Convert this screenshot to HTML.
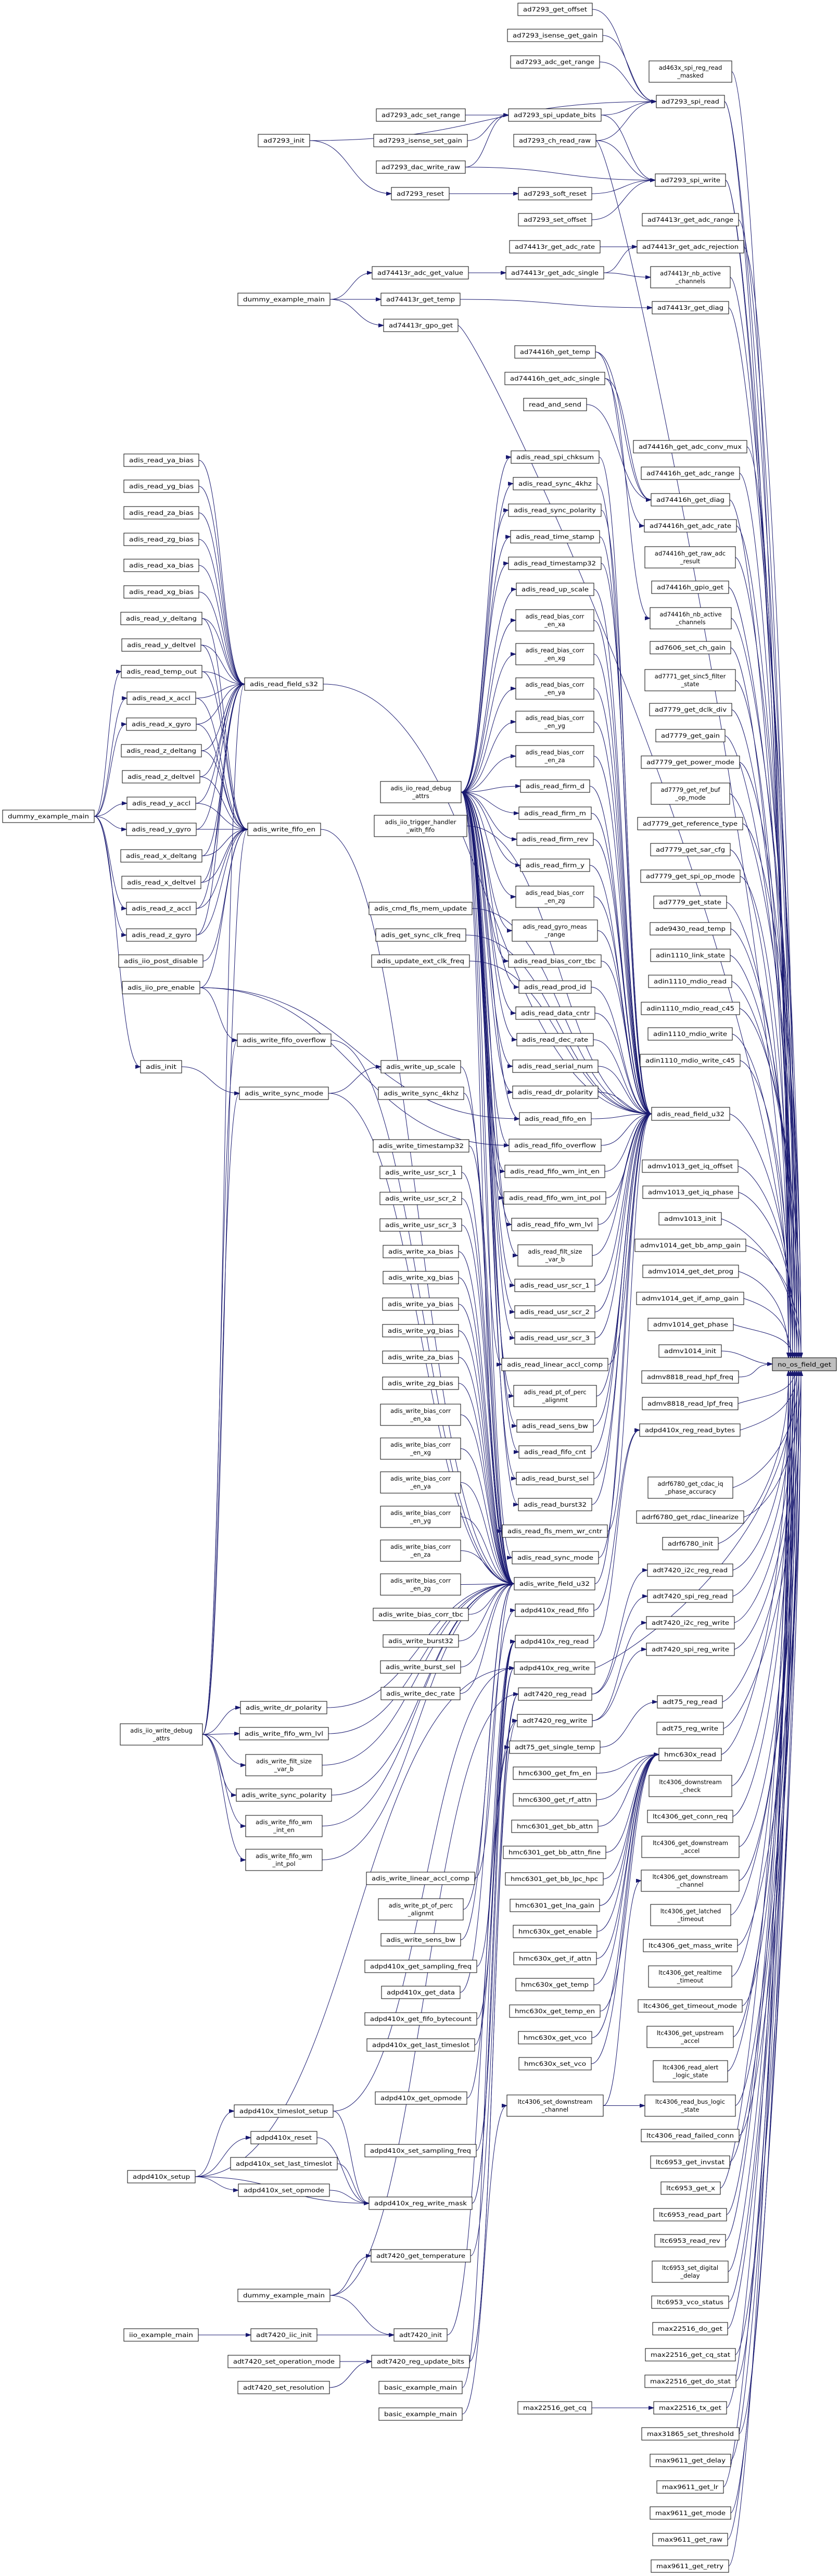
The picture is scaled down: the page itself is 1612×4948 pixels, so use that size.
<!DOCTYPE html>
<html><head><meta charset="utf-8">
<style>
html,body{margin:0;padding:0;background:#fff;}
svg#m{display:block}
svg.n{overflow:visible}
svg.n rect{fill:#fff;stroke:#000;stroke-width:1}
svg.n text{font-family:"DejaVu Sans","Liberation Sans",sans-serif;font-size:11.5px;text-anchor:middle;fill:#000}
#E path{fill:none;stroke:#191970;stroke-width:1}
#NO rect{fill:#bfbfbf}
</style></head><body>
<svg id="m" xmlns="http://www.w3.org/2000/svg" width="1612" height="4948" viewBox="0 0 1612 4948">
<defs><marker id="ah" markerUnits="userSpaceOnUse" markerWidth="11" markerHeight="8" refX="10" refY="3.5" orient="auto"><path d="M0,0L10,3.5L0,7z" fill="#191970" stroke="#191970"/></marker></defs>
<g id="E"></g>
<g id="N">
<svg class="n" id="a1" x="995" y="6" width="143" height="24"><rect width="100%" height="100%"/><text x="50%" y="16">ad7293_get_offset</text></svg>
<svg class="n" id="a2" x="975" y="56" width="183" height="24"><rect width="100%" height="100%"/><text x="50%" y="16">ad7293_isense_get_gain</text></svg>
<svg class="n" id="a3" x="981" y="107" width="171" height="24"><rect width="100%" height="100%"/><text x="50%" y="16">ad7293_adc_get_range</text></svg>
<svg class="n" id="a4" x="1247" y="117" width="159" height="41"><rect width="100%" height="100%"/><text y="17"><tspan x="50%">ad463x_spi_reg_read</tspan><tspan x="50%" dy="15">_masked</tspan></text></svg>
<svg class="n" id="a5" x="1261" y="183" width="131" height="24"><rect width="100%" height="100%"/><text x="50%" y="16">ad7293_spi_read</text></svg>
<svg class="n" id="a6" x="723" y="209" width="171" height="24"><rect width="100%" height="100%"/><text x="50%" y="16">ad7293_adc_set_range</text></svg>
<svg class="n" id="a7" x="977" y="209" width="178" height="24"><rect width="100%" height="100%"/><text x="50%" y="16">ad7293_spi_update_bits</text></svg>
<svg class="n" id="a8" x="496" y="258" width="99" height="24"><rect width="100%" height="100%"/><text x="50%" y="16">ad7293_init</text></svg>
<svg class="n" id="a9" x="718" y="258" width="180" height="24"><rect width="100%" height="100%"/><text x="50%" y="16">ad7293_isense_set_gain</text></svg>
<svg class="n" id="a10" x="987" y="258" width="158" height="24"><rect width="100%" height="100%"/><text x="50%" y="16">ad7293_ch_read_raw</text></svg>
<svg class="n" id="a11" x="723" y="309" width="171" height="24"><rect width="100%" height="100%"/><text x="50%" y="16">ad7293_dac_write_raw</text></svg>
<svg class="n" id="a12" x="1259" y="334" width="135" height="24"><rect width="100%" height="100%"/><text x="50%" y="16">ad7293_spi_write</text></svg>
<svg class="n" id="a13" x="752" y="360" width="111" height="24"><rect width="100%" height="100%"/><text x="50%" y="16">ad7293_reset</text></svg>
<svg class="n" id="a14" x="996" y="360" width="141" height="24"><rect width="100%" height="100%"/><text x="50%" y="16">ad7293_soft_reset</text></svg>
<svg class="n" id="a15" x="996" y="410" width="141" height="24"><rect width="100%" height="100%"/><text x="50%" y="16">ad7293_set_offset</text></svg>
<svg class="n" id="a16" x="1234" y="410" width="185" height="24"><rect width="100%" height="100%"/><text x="50%" y="16">ad74413r_get_adc_range</text></svg>
<svg class="n" id="a17" x="979" y="462" width="174" height="24"><rect width="100%" height="100%"/><text x="50%" y="16">ad74413r_get_adc_rate</text></svg>
<svg class="n" id="a18" x="1224" y="462" width="205" height="24"><rect width="100%" height="100%"/><text x="50%" y="16">ad74413r_get_adc_rejection</text></svg>
<svg class="n" id="a19" x="715" y="512" width="185" height="24"><rect width="100%" height="100%"/><text x="50%" y="16">ad74413r_adc_get_value</text></svg>
<svg class="n" id="a20" x="972" y="512" width="188" height="24"><rect width="100%" height="100%"/><text x="50%" y="16">ad74413r_get_adc_single</text></svg>
<svg class="n" id="a21" x="1250" y="512" width="153" height="41"><rect width="100%" height="100%"/><text y="17"><tspan x="50%">ad74413r_nb_active</tspan><tspan x="50%" dy="15">_channels</tspan></text></svg>
<svg class="n" id="a22" x="457" y="563" width="177" height="24"><rect width="100%" height="100%"/><text x="50%" y="16">dummy_example_main</text></svg>
<svg class="n" id="a23" x="732" y="563" width="152" height="24"><rect width="100%" height="100%"/><text x="50%" y="16">ad74413r_get_temp</text></svg>
<svg class="n" id="a24" x="1253" y="579" width="147" height="24"><rect width="100%" height="100%"/><text x="50%" y="16">ad74413r_get_diag</text></svg>
<svg class="n" id="a25" x="737" y="613" width="143" height="24"><rect width="100%" height="100%"/><text x="50%" y="16">ad74413r_gpo_get</text></svg>
<svg class="n" id="a26" x="989" y="664" width="155" height="24"><rect width="100%" height="100%"/><text x="50%" y="16">ad74416h_get_temp</text></svg>
<svg class="n" id="a27" x="970" y="715" width="192" height="24"><rect width="100%" height="100%"/><text x="50%" y="16">ad74416h_get_adc_single</text></svg>
<svg class="n" id="a28" x="1006" y="765" width="121" height="24"><rect width="100%" height="100%"/><text x="50%" y="16">read_and_send</text></svg>
<svg class="n" id="a29" x="1217" y="846" width="218" height="24"><rect width="100%" height="100%"/><text x="50%" y="16">ad74416h_get_adc_conv_mux</text></svg>
<svg class="n" id="a30" x="982" y="866" width="169" height="24"><rect width="100%" height="100%"/><text x="50%" y="16">adis_read_spi_chksum</text></svg>
<svg class="n" id="a31" x="1232" y="897" width="189" height="24"><rect width="100%" height="100%"/><text x="50%" y="16">ad74416h_get_adc_range</text></svg>
<svg class="n" id="b1" x="238" y="872" width="144" height="24"><rect width="100%" height="100%"/><text x="50%" y="16">adis_read_ya_bias</text></svg>
<svg class="n" id="a32" x="986" y="917" width="161" height="24"><rect width="100%" height="100%"/><text x="50%" y="16">adis_read_sync_4khz</text></svg>
<svg class="n" id="b2" x="238" y="922" width="144" height="24"><rect width="100%" height="100%"/><text x="50%" y="16">adis_read_yg_bias</text></svg>
<svg class="n" id="a33" x="1251" y="948" width="151" height="24"><rect width="100%" height="100%"/><text x="50%" y="16">ad74416h_get_diag</text></svg>
<svg class="n" id="a34" x="977" y="968" width="178" height="24"><rect width="100%" height="100%"/><text x="50%" y="16">adis_read_sync_polarity</text></svg>
<svg class="n" id="b3" x="238" y="973" width="144" height="24"><rect width="100%" height="100%"/><text x="50%" y="16">adis_read_za_bias</text></svg>
<svg class="n" id="a35" x="1238" y="998" width="177" height="24"><rect width="100%" height="100%"/><text x="50%" y="16">ad74416h_get_adc_rate</text></svg>
<svg class="n" id="a36" x="981" y="1019" width="171" height="24"><rect width="100%" height="100%"/><text x="50%" y="16">adis_read_time_stamp</text></svg>
<svg class="n" id="b4" x="238" y="1024" width="144" height="24"><rect width="100%" height="100%"/><text x="50%" y="16">adis_read_zg_bias</text></svg>
<svg class="n" id="a37" x="1239" y="1050" width="174" height="41"><rect width="100%" height="100%"/><text y="17"><tspan x="50%">ad74416h_get_raw_adc</tspan><tspan x="50%" dy="15">_result</tspan></text></svg>
<svg class="n" id="a38" x="977" y="1070" width="178" height="24"><rect width="100%" height="100%"/><text x="50%" y="16">adis_read_timestamp32</text></svg>
<svg class="n" id="b5" x="238" y="1074" width="144" height="24"><rect width="100%" height="100%"/><text x="50%" y="16">adis_read_xa_bias</text></svg>
<svg class="n" id="a39" x="1252" y="1116" width="148" height="24"><rect width="100%" height="100%"/><text x="50%" y="16">ad74416h_gpio_get</text></svg>
<svg class="n" id="a40" x="992" y="1120" width="149" height="24"><rect width="100%" height="100%"/><text x="50%" y="16">adis_read_up_scale</text></svg>
<svg class="n" id="b6" x="238" y="1125" width="144" height="24"><rect width="100%" height="100%"/><text x="50%" y="16">adis_read_xg_bias</text></svg>
<svg class="n" id="a41" x="1249" y="1167" width="156" height="41"><rect width="100%" height="100%"/><text y="17"><tspan x="50%">ad74416h_nb_active</tspan><tspan x="50%" dy="15">_channels</tspan></text></svg>
<svg class="n" id="a42" x="991" y="1171" width="150" height="41"><rect width="100%" height="100%"/><text y="17"><tspan x="50%">adis_read_bias_corr</tspan><tspan x="50%" dy="15">_en_xa</tspan></text></svg>
<svg class="n" id="b7" x="232" y="1176" width="156" height="24"><rect width="100%" height="100%"/><text x="50%" y="16">adis_read_y_deltang</text></svg>
<svg class="n" id="b8" x="234" y="1227" width="152" height="24"><rect width="100%" height="100%"/><text x="50%" y="16">adis_read_y_deltvel</text></svg>
<svg class="n" id="a43" x="1249" y="1232" width="155" height="24"><rect width="100%" height="100%"/><text x="50%" y="16">ad7606_set_ch_gain</text></svg>
<svg class="n" id="a44" x="991" y="1236" width="150" height="41"><rect width="100%" height="100%"/><text y="17"><tspan x="50%">adis_read_bias_corr</tspan><tspan x="50%" dy="15">_en_xg</tspan></text></svg>
<svg class="n" id="b9" x="233" y="1278" width="155" height="24"><rect width="100%" height="100%"/><text x="50%" y="16">adis_read_temp_out</text></svg>
<svg class="n" id="c1" x="470" y="1302" width="151" height="24"><rect width="100%" height="100%"/><text x="50%" y="16">adis_read_field_s32</text></svg>
<svg class="n" id="a45" x="991" y="1302" width="150" height="41"><rect width="100%" height="100%"/><text y="17"><tspan x="50%">adis_read_bias_corr</tspan><tspan x="50%" dy="15">_en_ya</tspan></text></svg>
<svg class="n" id="a46" x="1239" y="1286" width="174" height="41"><rect width="100%" height="100%"/><text y="17"><tspan x="50%">ad7771_get_sinc5_filter</tspan><tspan x="50%" dy="15">_state</tspan></text></svg>
<svg class="n" id="b10" x="244" y="1329" width="132" height="24"><rect width="100%" height="100%"/><text x="50%" y="16">adis_read_x_accl</text></svg>
<svg class="n" id="a47" x="1248" y="1351" width="158" height="24"><rect width="100%" height="100%"/><text x="50%" y="16">ad7779_get_dclk_div</text></svg>
<svg class="n" id="b11" x="243" y="1379" width="134" height="24"><rect width="100%" height="100%"/><text x="50%" y="16">adis_read_x_gyro</text></svg>
<svg class="n" id="a48" x="991" y="1366" width="150" height="41"><rect width="100%" height="100%"/><text y="17"><tspan x="50%">adis_read_bias_corr</tspan><tspan x="50%" dy="15">_en_yg</tspan></text></svg>
<svg class="n" id="a49" x="1260" y="1401" width="133" height="24"><rect width="100%" height="100%"/><text x="50%" y="16">ad7779_get_gain</text></svg>
<svg class="n" id="b12" x="233" y="1430" width="154" height="24"><rect width="100%" height="100%"/><text x="50%" y="16">adis_read_z_deltang</text></svg>
<svg class="n" id="a50" x="991" y="1432" width="150" height="41"><rect width="100%" height="100%"/><text y="17"><tspan x="50%">adis_read_bias_corr</tspan><tspan x="50%" dy="15">_en_za</tspan></text></svg>
<svg class="n" id="a51" x="1232" y="1452" width="189" height="24"><rect width="100%" height="100%"/><text x="50%" y="16">ad7779_get_power_mode</text></svg>
<svg class="n" id="b13" x="235" y="1480" width="149" height="24"><rect width="100%" height="100%"/><text x="50%" y="16">adis_read_z_deltvel</text></svg>
<svg class="n" id="d1" x="731" y="1501" width="155" height="41"><rect width="100%" height="100%"/><text y="17"><tspan x="50%">adis_iio_read_debug</tspan><tspan x="50%" dy="15">_attrs</tspan></text></svg>
<svg class="n" id="a52" x="1000" y="1498" width="133" height="24"><rect width="100%" height="100%"/><text x="50%" y="16">adis_read_firm_d</text></svg>
<svg class="n" id="a53" x="1251" y="1504" width="151" height="41"><rect width="100%" height="100%"/><text y="17"><tspan x="50%">ad7779_get_ref_buf</tspan><tspan x="50%" dy="15">_op_mode</tspan></text></svg>
<svg class="n" id="b14" x="244" y="1531" width="132" height="24"><rect width="100%" height="100%"/><text x="50%" y="16">adis_read_y_accl</text></svg>
<svg class="n" id="L1" x="5" y="1556" width="176" height="24"><rect width="100%" height="100%"/><text x="50%" y="16">dummy_example_main</text></svg>
<svg class="n" id="a54" x="997" y="1550" width="139" height="24"><rect width="100%" height="100%"/><text x="50%" y="16">adis_read_firm_m</text></svg>
<svg class="n" id="a55" x="1225" y="1570" width="202" height="24"><rect width="100%" height="100%"/><text x="50%" y="16">ad7779_get_reference_type</text></svg>
<svg class="n" id="d2" x="719" y="1566" width="178" height="41"><rect width="100%" height="100%"/><text y="17"><tspan x="50%">adis_iio_trigger_handler</tspan><tspan x="50%" dy="15">_with_fifo</tspan></text></svg>
<svg class="n" id="b15" x="243" y="1581" width="134" height="24"><rect width="100%" height="100%"/><text x="50%" y="16">adis_read_y_gyro</text></svg>
<svg class="n" id="c2" x="476" y="1581" width="140" height="24"><rect width="100%" height="100%"/><text x="50%" y="16">adis_write_fifo_en</text></svg>
<svg class="n" id="a56" x="993" y="1600" width="147" height="24"><rect width="100%" height="100%"/><text x="50%" y="16">adis_read_firm_rev</text></svg>
<svg class="n" id="a57" x="1250" y="1620" width="153" height="24"><rect width="100%" height="100%"/><text x="50%" y="16">ad7779_get_sar_cfg</text></svg>
<svg class="n" id="b16" x="232" y="1632" width="156" height="24"><rect width="100%" height="100%"/><text x="50%" y="16">adis_read_x_deltang</text></svg>
<svg class="n" id="a58" x="1000" y="1650" width="133" height="24"><rect width="100%" height="100%"/><text x="50%" y="16">adis_read_firm_y</text></svg>
<svg class="n" id="a59" x="1231" y="1671" width="191" height="24"><rect width="100%" height="100%"/><text x="50%" y="16">ad7779_get_spi_op_mode</text></svg>
<svg class="n" id="b17" x="234" y="1683" width="152" height="24"><rect width="100%" height="100%"/><text x="50%" y="16">adis_read_x_deltvel</text></svg>
<svg class="n" id="a60" x="991" y="1702" width="150" height="41"><rect width="100%" height="100%"/><text y="17"><tspan x="50%">adis_read_bias_corr</tspan><tspan x="50%" dy="15">_en_zg</tspan></text></svg>
<svg class="n" id="a61" x="1256" y="1721" width="140" height="24"><rect width="100%" height="100%"/><text x="50%" y="16">ad7779_get_state</text></svg>
<svg class="n" id="d3" x="709" y="1733" width="198" height="24"><rect width="100%" height="100%"/><text x="50%" y="16">adis_cmd_fls_mem_update</text></svg>
<svg class="n" id="b18" x="243" y="1733" width="134" height="24"><rect width="100%" height="100%"/><text x="50%" y="16">adis_read_z_accl</text></svg>
<svg class="n" id="a62" x="984" y="1767" width="164" height="41"><rect width="100%" height="100%"/><text y="17"><tspan x="50%">adis_read_gyro_meas</tspan><tspan x="50%" dy="15">_range</tspan></text></svg>
<svg class="n" id="a63" x="1249" y="1772" width="155" height="24"><rect width="100%" height="100%"/><text x="50%" y="16">ade9430_read_temp</text></svg>
<svg class="n" id="d4" x="722" y="1784" width="173" height="24"><rect width="100%" height="100%"/><text x="50%" y="16">adis_get_sync_clk_freq</text></svg>
<svg class="n" id="b19" x="243" y="1784" width="134" height="24"><rect width="100%" height="100%"/><text x="50%" y="16">adis_read_z_gyro</text></svg>
<svg class="n" id="a64" x="1250" y="1823" width="153" height="24"><rect width="100%" height="100%"/><text x="50%" y="16">adin1110_link_state</text></svg>
<svg class="n" id="b20" x="228" y="1834" width="162" height="24"><rect width="100%" height="100%"/><text x="50%" y="16">adis_iio_post_disable</text></svg>
<svg class="n" id="d5" x="714" y="1834" width="188" height="24"><rect width="100%" height="100%"/><text x="50%" y="16">adis_update_ext_clk_freq</text></svg>
<svg class="n" id="a65" x="977" y="1834" width="178" height="24"><rect width="100%" height="100%"/><text x="50%" y="16">adis_read_bias_corr_tbc</text></svg>
<svg class="n" id="a66" x="1246" y="1873" width="160" height="24"><rect width="100%" height="100%"/><text x="50%" y="16">adin1110_mdio_read</text></svg>
<svg class="n" id="b21" x="235" y="1885" width="149" height="24"><rect width="100%" height="100%"/><text x="50%" y="16">adis_iio_pre_enable</text></svg>
<svg class="n" id="a67" x="997" y="1884" width="139" height="24"><rect width="100%" height="100%"/><text x="50%" y="16">adis_read_prod_id</text></svg>
<svg class="n" id="a68" x="1232" y="1925" width="189" height="24"><rect width="100%" height="100%"/><text x="50%" y="16">adin1110_mdio_read_c45</text></svg>
<svg class="n" id="a69" x="991" y="1934" width="152" height="24"><rect width="100%" height="100%"/><text x="50%" y="16">adis_read_data_cntr</text></svg>
<svg class="n" id="a70" x="1245" y="1974" width="162" height="24"><rect width="100%" height="100%"/><text x="50%" y="16">adin1110_mdio_write</text></svg>
<svg class="n" id="c3" x="456" y="1986" width="180" height="24"><rect width="100%" height="100%"/><text x="50%" y="16">adis_write_fifo_overflow</text></svg>
<svg class="n" id="a71" x="993" y="1985" width="147" height="24"><rect width="100%" height="100%"/><text x="50%" y="16">adis_read_dec_rate</text></svg>
<svg class="n" id="a72" x="1230" y="2025" width="192" height="24"><rect width="100%" height="100%"/><text x="50%" y="16">adin1110_mdio_write_c45</text></svg>
<svg class="n" id="b22" x="270" y="2037" width="79" height="24"><rect width="100%" height="100%"/><text x="50%" y="16">adis_init</text></svg>
<svg class="n" id="d6" x="732" y="2037" width="153" height="24"><rect width="100%" height="100%"/><text x="50%" y="16">adis_write_up_scale</text></svg>
<svg class="n" id="a73" x="985" y="2036" width="164" height="24"><rect width="100%" height="100%"/><text x="50%" y="16">adis_read_serial_num</text></svg>
<svg class="n" id="c4" x="460" y="2088" width="171" height="24"><rect width="100%" height="100%"/><text x="50%" y="16">adis_write_sync_mode</text></svg>
<svg class="n" id="d7" x="727" y="2088" width="164" height="24"><rect width="100%" height="100%"/><text x="50%" y="16">adis_write_sync_4khz</text></svg>
<svg class="n" id="a74" x="985" y="2086" width="164" height="24"><rect width="100%" height="100%"/><text x="50%" y="16">adis_read_dr_polarity</text></svg>
<svg class="n" id="f1" x="1252" y="2127" width="150" height="25"><rect width="100%" height="100%"/><text x="50%" y="17">adis_read_field_u32</text></svg>
<svg class="n" id="a75" x="998" y="2137" width="138" height="24"><rect width="100%" height="100%"/><text x="50%" y="16">adis_read_fifo_en</text></svg>
<svg class="n" id="d8" x="717" y="2189" width="184" height="24"><rect width="100%" height="100%"/><text x="50%" y="16">adis_write_timestamp32</text></svg>
<svg class="n" id="a76" x="978" y="2188" width="177" height="24"><rect width="100%" height="100%"/><text x="50%" y="16">adis_read_fifo_overflow</text></svg>
<svg class="n" id="a77" x="1234" y="2228" width="184" height="24"><rect width="100%" height="100%"/><text x="50%" y="16">admv1013_get_iq_offset</text></svg>
<svg class="n" id="d9" x="730" y="2240" width="157" height="24"><rect width="100%" height="100%"/><text x="50%" y="16">adis_write_usr_scr_1</text></svg>
<svg class="n" id="a78" x="970" y="2238" width="192" height="24"><rect width="100%" height="100%"/><text x="50%" y="16">adis_read_fifo_wm_int_en</text></svg>
<svg class="n" id="a79" x="1235" y="2278" width="184" height="24"><rect width="100%" height="100%"/><text x="50%" y="16">admv1013_get_iq_phase</text></svg>
<svg class="n" id="d10" x="730" y="2290" width="157" height="24"><rect width="100%" height="100%"/><text x="50%" y="16">adis_write_usr_scr_2</text></svg>
<svg class="n" id="a80" x="968" y="2289" width="196" height="24"><rect width="100%" height="100%"/><text x="50%" y="16">adis_read_fifo_wm_int_pol</text></svg>
<svg class="n" id="a81" x="1266" y="2329" width="120" height="24"><rect width="100%" height="100%"/><text x="50%" y="16">admv1013_init</text></svg>
<svg class="n" id="d11" x="730" y="2341" width="157" height="24"><rect width="100%" height="100%"/><text x="50%" y="16">adis_write_usr_scr_3</text></svg>
<svg class="n" id="a82" x="983" y="2340" width="166" height="24"><rect width="100%" height="100%"/><text x="50%" y="16">adis_read_fifo_wm_lvl</text></svg>
<svg class="n" id="a83" x="1220" y="2380" width="213" height="24"><rect width="100%" height="100%"/><text x="50%" y="16">admv1014_get_bb_amp_gain</text></svg>
<svg class="n" id="d12" x="736" y="2392" width="145" height="24"><rect width="100%" height="100%"/><text x="50%" y="16">adis_write_xa_bias</text></svg>
<svg class="n" id="a84" x="995" y="2391" width="143" height="41"><rect width="100%" height="100%"/><text y="17"><tspan x="50%">adis_read_filt_size</tspan><tspan x="50%" dy="15">_var_b</tspan></text></svg>
<svg class="n" id="a85" x="1235" y="2430" width="184" height="24"><rect width="100%" height="100%"/><text x="50%" y="16">admv1014_get_det_prog</text></svg>
<svg class="n" id="d13" x="736" y="2442" width="145" height="24"><rect width="100%" height="100%"/><text x="50%" y="16">adis_write_xg_bias</text></svg>
<svg class="n" id="a86" x="989" y="2457" width="154" height="24"><rect width="100%" height="100%"/><text x="50%" y="16">adis_read_usr_scr_1</text></svg>
<svg class="n" id="a87" x="1223" y="2482" width="206" height="24"><rect width="100%" height="100%"/><text x="50%" y="16">admv1014_get_if_amp_gain</text></svg>
<svg class="n" id="d14" x="735" y="2493" width="146" height="24"><rect width="100%" height="100%"/><text x="50%" y="16">adis_write_ya_bias</text></svg>
<svg class="n" id="a88" x="989" y="2508" width="154" height="24"><rect width="100%" height="100%"/><text x="50%" y="16">adis_read_usr_scr_2</text></svg>
<svg class="n" id="a89" x="1245" y="2532" width="164" height="24"><rect width="100%" height="100%"/><text x="50%" y="16">admv1014_get_phase</text></svg>
<svg class="n" id="d15" x="735" y="2544" width="146" height="24"><rect width="100%" height="100%"/><text x="50%" y="16">adis_write_yg_bias</text></svg>
<svg class="n" id="a90" x="989" y="2558" width="154" height="24"><rect width="100%" height="100%"/><text x="50%" y="16">adis_read_usr_scr_3</text></svg>
<svg class="n" id="a91" x="1266" y="2583" width="120" height="24"><rect width="100%" height="100%"/><text x="50%" y="16">admv1014_init</text></svg>
<svg class="n" id="d16" x="735" y="2595" width="146" height="24"><rect width="100%" height="100%"/><text x="50%" y="16">adis_write_za_bias</text></svg>
<svg class="n" id="NO" x="1484" y="2608" width="123" height="25"><rect width="100%" height="100%"/><text x="50%" y="17">no_os_field_get</text></svg>
<svg class="n" id="a92" x="964" y="2609" width="204" height="24"><rect width="100%" height="100%"/><text x="50%" y="16">adis_read_linear_accl_comp</text></svg>
<svg class="n" id="a93" x="1233" y="2633" width="186" height="24"><rect width="100%" height="100%"/><text x="50%" y="16">admv8818_read_hpf_freq</text></svg>
<svg class="n" id="d17" x="735" y="2645" width="146" height="24"><rect width="100%" height="100%"/><text x="50%" y="16">adis_write_zg_bias</text></svg>
<svg class="n" id="a94" x="987" y="2661" width="159" height="41"><rect width="100%" height="100%"/><text y="17"><tspan x="50%">adis_read_pt_of_perc</tspan><tspan x="50%" dy="15">_alignmt</tspan></text></svg>
<svg class="n" id="a95" x="1234" y="2684" width="184" height="24"><rect width="100%" height="100%"/><text x="50%" y="16">admv8818_read_lpf_freq</text></svg>
<svg class="n" id="d18" x="731" y="2697" width="154" height="41"><rect width="100%" height="100%"/><text y="17"><tspan x="50%">adis_write_bias_corr</tspan><tspan x="50%" dy="15">_en_xa</tspan></text></svg>
<svg class="n" id="a96" x="993" y="2727" width="147" height="24"><rect width="100%" height="100%"/><text x="50%" y="16">adis_read_sens_bw</text></svg>
<svg class="n" id="a97" x="1229" y="2735" width="193" height="24"><rect width="100%" height="100%"/><text x="50%" y="16">adpd410x_reg_read_bytes</text></svg>
<svg class="n" id="d19" x="731" y="2762" width="154" height="41"><rect width="100%" height="100%"/><text y="17"><tspan x="50%">adis_write_bias_corr</tspan><tspan x="50%" dy="15">_en_xg</tspan></text></svg>
<svg class="n" id="a98" x="997" y="2777" width="139" height="24"><rect width="100%" height="100%"/><text x="50%" y="16">adis_read_fifo_cnt</text></svg>
<svg class="n" id="d20" x="731" y="2827" width="154" height="41"><rect width="100%" height="100%"/><text y="17"><tspan x="50%">adis_write_bias_corr</tspan><tspan x="50%" dy="15">_en_ya</tspan></text></svg>
<svg class="n" id="a99" x="1245" y="2837" width="163" height="41"><rect width="100%" height="100%"/><text y="17"><tspan x="50%">adrf6780_get_cdac_iq</tspan><tspan x="50%" dy="15">_phase_accuracy</tspan></text></svg>
<svg class="n" id="a100" x="992" y="2828" width="149" height="24"><rect width="100%" height="100%"/><text x="50%" y="16">adis_read_burst_sel</text></svg>
<svg class="n" id="a101" x="996" y="2878" width="141" height="24"><rect width="100%" height="100%"/><text x="50%" y="16">adis_read_burst32</text></svg>
<svg class="n" id="d21" x="731" y="2893" width="154" height="41"><rect width="100%" height="100%"/><text y="17"><tspan x="50%">adis_write_bias_corr</tspan><tspan x="50%" dy="15">_en_yg</tspan></text></svg>
<svg class="n" id="a102" x="1223" y="2902" width="206" height="24"><rect width="100%" height="100%"/><text x="50%" y="16">adrf6780_get_rdac_linearize</text></svg>
<svg class="n" id="a103" x="965" y="2929" width="202" height="24"><rect width="100%" height="100%"/><text x="50%" y="16">adis_read_fls_mem_wr_cntr</text></svg>
<svg class="n" id="a104" x="1273" y="2953" width="107" height="24"><rect width="100%" height="100%"/><text x="50%" y="16">adrf6780_init</text></svg>
<svg class="n" id="d22" x="731" y="2958" width="154" height="41"><rect width="100%" height="100%"/><text y="17"><tspan x="50%">adis_write_bias_corr</tspan><tspan x="50%" dy="15">_en_za</tspan></text></svg>
<svg class="n" id="a105" x="984" y="2980" width="166" height="24"><rect width="100%" height="100%"/><text x="50%" y="16">adis_read_sync_mode</text></svg>
<svg class="n" id="a106" x="1244" y="3004" width="164" height="24"><rect width="100%" height="100%"/><text x="50%" y="16">adt7420_i2c_reg_read</text></svg>
<svg class="n" id="d23" x="731" y="3023" width="154" height="41"><rect width="100%" height="100%"/><text y="17"><tspan x="50%">adis_write_bias_corr</tspan><tspan x="50%" dy="15">_en_zg</tspan></text></svg>
<svg class="n" id="e1" x="988" y="3030" width="155" height="24"><rect width="100%" height="100%"/><text x="50%" y="16">adis_write_field_u32</text></svg>
<svg class="n" id="a107" x="1244" y="3054" width="164" height="24"><rect width="100%" height="100%"/><text x="50%" y="16">adt7420_spi_reg_read</text></svg>
<svg class="n" id="d24" x="717" y="3089" width="183" height="24"><rect width="100%" height="100%"/><text x="50%" y="16">adis_write_bias_corr_tbc</text></svg>
<svg class="n" id="e2" x="990" y="3081" width="151" height="24"><rect width="100%" height="100%"/><text x="50%" y="16">adpd410x_read_fifo</text></svg>
<svg class="n" id="a108" x="1242" y="3105" width="169" height="24"><rect width="100%" height="100%"/><text x="50%" y="16">adt7420_i2c_reg_write</text></svg>
<svg class="n" id="d25" x="736" y="3140" width="145" height="24"><rect width="100%" height="100%"/><text x="50%" y="16">adis_write_burst32</text></svg>
<svg class="n" id="e3" x="990" y="3141" width="151" height="24"><rect width="100%" height="100%"/><text x="50%" y="16">adpd410x_reg_read</text></svg>
<svg class="n" id="a109" x="1242" y="3156" width="169" height="24"><rect width="100%" height="100%"/><text x="50%" y="16">adt7420_spi_reg_write</text></svg>
<svg class="n" id="d26" x="731" y="3190" width="154" height="24"><rect width="100%" height="100%"/><text x="50%" y="16">adis_write_burst_sel</text></svg>
<svg class="n" id="e4" x="988" y="3192" width="155" height="24"><rect width="100%" height="100%"/><text x="50%" y="16">adpd410x_reg_write</text></svg>
<svg class="n" id="d27" x="732" y="3241" width="152" height="24"><rect width="100%" height="100%"/><text x="50%" y="16">adis_write_dec_rate</text></svg>
<svg class="n" id="e5" x="996" y="3242" width="141" height="24"><rect width="100%" height="100%"/><text x="50%" y="16">adt7420_reg_read</text></svg>
<svg class="n" id="a110" x="1263" y="3257" width="125" height="24"><rect width="100%" height="100%"/><text x="50%" y="16">adt75_reg_read</text></svg>
<svg class="n" id="c5" x="462" y="3268" width="166" height="24"><rect width="100%" height="100%"/><text x="50%" y="16">adis_write_dr_polarity</text></svg>
<svg class="n" id="e6" x="994" y="3293" width="144" height="24"><rect width="100%" height="100%"/><text x="50%" y="16">adt7420_reg_write</text></svg>
<svg class="n" id="b23" x="231" y="3311" width="158" height="41"><rect width="100%" height="100%"/><text y="17"><tspan x="50%">adis_iio_write_debug</tspan><tspan x="50%" dy="15">_attrs</tspan></text></svg>
<svg class="n" id="a111" x="1262" y="3308" width="128" height="24"><rect width="100%" height="100%"/><text x="50%" y="16">adt75_reg_write</text></svg>
<svg class="n" id="c6" x="460" y="3318" width="171" height="24"><rect width="100%" height="100%"/><text x="50%" y="16">adis_write_fifo_wm_lvl</text></svg>
<svg class="n" id="e7" x="979" y="3344" width="174" height="24"><rect width="100%" height="100%"/><text x="50%" y="16">adt75_get_single_temp</text></svg>
<svg class="n" id="a112" x="1266" y="3358" width="120" height="24"><rect width="100%" height="100%"/><text x="50%" y="16">hmc630x_read</text></svg>
<svg class="n" id="c7" x="472" y="3370" width="147" height="41"><rect width="100%" height="100%"/><text y="17"><tspan x="50%">adis_write_filt_size</tspan><tspan x="50%" dy="15">_var_b</tspan></text></svg>
<svg class="n" id="e8" x="986" y="3394" width="160" height="24"><rect width="100%" height="100%"/><text x="50%" y="16">hmc6300_get_fm_en</text></svg>
<svg class="n" id="a113" x="1247" y="3410" width="159" height="41"><rect width="100%" height="100%"/><text y="17"><tspan x="50%">ltc4306_downstream</tspan><tspan x="50%" dy="15">_check</tspan></text></svg>
<svg class="n" id="c8" x="454" y="3436" width="183" height="24"><rect width="100%" height="100%"/><text x="50%" y="16">adis_write_sync_polarity</text></svg>
<svg class="n" id="e9" x="986" y="3445" width="160" height="24"><rect width="100%" height="100%"/><text x="50%" y="16">hmc6300_get_rf_attn</text></svg>
<svg class="n" id="a114" x="1244" y="3477" width="164" height="24"><rect width="100%" height="100%"/><text x="50%" y="16">ltc4306_get_conn_req</text></svg>
<svg class="n" id="c9" x="472" y="3487" width="147" height="41"><rect width="100%" height="100%"/><text y="17"><tspan x="50%">adis_write_fifo_wm</tspan><tspan x="50%" dy="15">_int_en</tspan></text></svg>
<svg class="n" id="e10" x="983" y="3496" width="166" height="24"><rect width="100%" height="100%"/><text x="50%" y="16">hmc6301_get_bb_attn</text></svg>
<svg class="n" id="a115" x="1233" y="3527" width="187" height="41"><rect width="100%" height="100%"/><text y="17"><tspan x="50%">ltc4306_get_downstream</tspan><tspan x="50%" dy="15">_accel</tspan></text></svg>
<svg class="n" id="e11" x="967" y="3546" width="197" height="24"><rect width="100%" height="100%"/><text x="50%" y="16">hmc6301_get_bb_attn_fine</text></svg>
<svg class="n" id="c10" x="472" y="3552" width="147" height="41"><rect width="100%" height="100%"/><text y="17"><tspan x="50%">adis_write_fifo_wm</tspan><tspan x="50%" dy="15">_int_pol</tspan></text></svg>
<svg class="n" id="a116" x="1232" y="3592" width="188" height="41"><rect width="100%" height="100%"/><text y="17"><tspan x="50%">ltc4306_get_downstream</tspan><tspan x="50%" dy="15">_channel</tspan></text></svg>
<svg class="n" id="d28" x="704" y="3596" width="208" height="24"><rect width="100%" height="100%"/><text x="50%" y="16">adis_write_linear_accl_comp</text></svg>
<svg class="n" id="e12" x="971" y="3597" width="188" height="24"><rect width="100%" height="100%"/><text x="50%" y="16">hmc6301_get_bb_lpc_hpc</text></svg>
<svg class="n" id="e13" x="980" y="3648" width="172" height="24"><rect width="100%" height="100%"/><text x="50%" y="16">hmc6301_get_lna_gain</text></svg>
<svg class="n" id="d29" x="727" y="3647" width="163" height="41"><rect width="100%" height="100%"/><text y="17"><tspan x="50%">adis_write_pt_of_perc</tspan><tspan x="50%" dy="15">_alignmt</tspan></text></svg>
<svg class="n" id="a117" x="1250" y="3658" width="154" height="41"><rect width="100%" height="100%"/><text y="17"><tspan x="50%">ltc4306_get_latched</tspan><tspan x="50%" dy="15">_timeout</tspan></text></svg>
<svg class="n" id="e14" x="986" y="3698" width="161" height="24"><rect width="100%" height="100%"/><text x="50%" y="16">hmc630x_get_enable</text></svg>
<svg class="n" id="d30" x="732" y="3714" width="153" height="24"><rect width="100%" height="100%"/><text x="50%" y="16">adis_write_sens_bw</text></svg>
<svg class="n" id="a118" x="1236" y="3725" width="181" height="24"><rect width="100%" height="100%"/><text x="50%" y="16">ltc4306_get_mass_write</text></svg>
<svg class="n" id="e15" x="987" y="3750" width="159" height="24"><rect width="100%" height="100%"/><text x="50%" y="16">hmc630x_get_if_attn</text></svg>
<svg class="n" id="d31" x="701" y="3765" width="215" height="24"><rect width="100%" height="100%"/><text x="50%" y="16">adpd410x_get_sampling_freq</text></svg>
<svg class="n" id="a119" x="1246" y="3776" width="160" height="41"><rect width="100%" height="100%"/><text y="17"><tspan x="50%">ltc4306_get_realtime</tspan><tspan x="50%" dy="15">_timeout</tspan></text></svg>
<svg class="n" id="e16" x="991" y="3800" width="150" height="24"><rect width="100%" height="100%"/><text x="50%" y="16">hmc630x_get_temp</text></svg>
<svg class="n" id="d32" x="733" y="3815" width="151" height="24"><rect width="100%" height="100%"/><text x="50%" y="16">adpd410x_get_data</text></svg>
<svg class="n" id="a120" x="1226" y="3841" width="200" height="24"><rect width="100%" height="100%"/><text x="50%" y="16">ltc4306_get_timeout_mode</text></svg>
<svg class="n" id="e17" x="979" y="3851" width="174" height="24"><rect width="100%" height="100%"/><text x="50%" y="16">hmc630x_get_temp_en</text></svg>
<svg class="n" id="d33" x="701" y="3866" width="215" height="24"><rect width="100%" height="100%"/><text x="50%" y="16">adpd410x_get_fifo_bytecount</text></svg>
<svg class="n" id="a121" x="1243" y="3892" width="166" height="41"><rect width="100%" height="100%"/><text y="17"><tspan x="50%">ltc4306_get_upstream</tspan><tspan x="50%" dy="15">_accel</tspan></text></svg>
<svg class="n" id="e18" x="996" y="3902" width="141" height="24"><rect width="100%" height="100%"/><text x="50%" y="16">hmc630x_get_vco</text></svg>
<svg class="n" id="d34" x="705" y="3916" width="207" height="24"><rect width="100%" height="100%"/><text x="50%" y="16">adpd410x_get_last_timeslot</text></svg>
<svg class="n" id="e19" x="997" y="3952" width="139" height="24"><rect width="100%" height="100%"/><text x="50%" y="16">hmc630x_set_vco</text></svg>
<svg class="n" id="a122" x="1255" y="3958" width="143" height="41"><rect width="100%" height="100%"/><text y="17"><tspan x="50%">ltc4306_read_alert</tspan><tspan x="50%" dy="15">_logic_state</tspan></text></svg>
<svg class="n" id="d35" x="721" y="4018" width="176" height="24"><rect width="100%" height="100%"/><text x="50%" y="16">adpd410x_get_opmode</text></svg>
<svg class="n" id="e20" x="974" y="4024" width="185" height="41"><rect width="100%" height="100%"/><text y="17"><tspan x="50%">ltc4306_set_downstream</tspan><tspan x="50%" dy="15">_channel</tspan></text></svg>
<svg class="n" id="a123" x="1239" y="4024" width="174" height="41"><rect width="100%" height="100%"/><text y="17"><tspan x="50%">ltc4306_read_bus_logic</tspan><tspan x="50%" dy="15">_state</tspan></text></svg>
<svg class="n" id="c11" x="450" y="4043" width="190" height="24"><rect width="100%" height="100%"/><text x="50%" y="16">adpd410x_timeslot_setup</text></svg>
<svg class="n" id="a124" x="1232" y="4090" width="188" height="24"><rect width="100%" height="100%"/><text x="50%" y="16">ltc4306_read_failed_conn</text></svg>
<svg class="n" id="c12" x="482" y="4094" width="127" height="24"><rect width="100%" height="100%"/><text x="50%" y="16">adpd410x_reset</text></svg>
<svg class="n" id="d36" x="701" y="4119" width="214" height="24"><rect width="100%" height="100%"/><text x="50%" y="16">adpd410x_set_sampling_freq</text></svg>
<svg class="n" id="a125" x="1250" y="4141" width="152" height="24"><rect width="100%" height="100%"/><text x="50%" y="16">ltc6953_get_invstat</text></svg>
<svg class="n" id="c13" x="443" y="4144" width="205" height="24"><rect width="100%" height="100%"/><text x="50%" y="16">adpd410x_set_last_timeslot</text></svg>
<svg class="n" id="b24" x="245" y="4169" width="130" height="24"><rect width="100%" height="100%"/><text x="50%" y="16">adpd410x_setup</text></svg>
<svg class="n" id="a126" x="1270" y="4191" width="114" height="24"><rect width="100%" height="100%"/><text x="50%" y="16">ltc6953_get_x</text></svg>
<svg class="n" id="c14" x="458" y="4195" width="175" height="24"><rect width="100%" height="100%"/><text x="50%" y="16">adpd410x_set_opmode</text></svg>
<svg class="n" id="d37" x="709" y="4220" width="198" height="24"><rect width="100%" height="100%"/><text x="50%" y="16">adpd410x_reg_write_mask</text></svg>
<svg class="n" id="a127" x="1256" y="4242" width="140" height="24"><rect width="100%" height="100%"/><text x="50%" y="16">ltc6953_read_part</text></svg>
<svg class="n" id="a128" x="1258" y="4292" width="136" height="24"><rect width="100%" height="100%"/><text x="50%" y="16">ltc6953_read_rev</text></svg>
<svg class="n" id="d38" x="713" y="4321" width="191" height="24"><rect width="100%" height="100%"/><text x="50%" y="16">adt7420_get_temperature</text></svg>
<svg class="n" id="a129" x="1253" y="4343" width="146" height="41"><rect width="100%" height="100%"/><text y="17"><tspan x="50%">ltc6953_set_digital</tspan><tspan x="50%" dy="15">_delay</tspan></text></svg>
<svg class="n" id="c15" x="457" y="4397" width="177" height="24"><rect width="100%" height="100%"/><text x="50%" y="16">dummy_example_main</text></svg>
<svg class="n" id="a130" x="1252" y="4410" width="148" height="24"><rect width="100%" height="100%"/><text x="50%" y="16">ltc6953_vco_status</text></svg>
<svg class="n" id="a131" x="1254" y="4461" width="144" height="24"><rect width="100%" height="100%"/><text x="50%" y="16">max22516_do_get</text></svg>
<svg class="n" id="b25" x="238" y="4473" width="143" height="24"><rect width="100%" height="100%"/><text x="50%" y="16">iio_example_main</text></svg>
<svg class="n" id="c16" x="482" y="4473" width="127" height="24"><rect width="100%" height="100%"/><text x="50%" y="16">adt7420_iic_init</text></svg>
<svg class="n" id="d39" x="757" y="4473" width="102" height="24"><rect width="100%" height="100%"/><text x="50%" y="16">adt7420_init</text></svg>
<svg class="n" id="a132" x="1240" y="4511" width="173" height="24"><rect width="100%" height="100%"/><text x="50%" y="16">max22516_get_cq_stat</text></svg>
<svg class="n" id="c17" x="438" y="4524" width="215" height="24"><rect width="100%" height="100%"/><text x="50%" y="16">adt7420_set_operation_mode</text></svg>
<svg class="n" id="d40" x="714" y="4524" width="188" height="24"><rect width="100%" height="100%"/><text x="50%" y="16">adt7420_reg_update_bits</text></svg>
<svg class="n" id="a133" x="1239" y="4562" width="175" height="24"><rect width="100%" height="100%"/><text x="50%" y="16">max22516_get_do_stat</text></svg>
<svg class="n" id="c18" x="457" y="4574" width="176" height="24"><rect width="100%" height="100%"/><text x="50%" y="16">adt7420_set_resolution</text></svg>
<svg class="n" id="d41" x="728" y="4574" width="160" height="24"><rect width="100%" height="100%"/><text x="50%" y="16">basic_example_main</text></svg>
<svg class="n" id="e21" x="995" y="4613" width="142" height="24"><rect width="100%" height="100%"/><text x="50%" y="16">max22516_get_cq</text></svg>
<svg class="n" id="a134" x="1256" y="4613" width="140" height="24"><rect width="100%" height="100%"/><text x="50%" y="16">max22516_tx_get</text></svg>
<svg class="n" id="d42" x="728" y="4625" width="160" height="24"><rect width="100%" height="100%"/><text x="50%" y="16">basic_example_main</text></svg>
<svg class="n" id="a135" x="1233" y="4663" width="187" height="24"><rect width="100%" height="100%"/><text x="50%" y="16">max31865_set_threshold</text></svg>
<svg class="n" id="a136" x="1249" y="4714" width="155" height="24"><rect width="100%" height="100%"/><text x="50%" y="16">max9611_get_delay</text></svg>
<svg class="n" id="a137" x="1262" y="4765" width="128" height="24"><rect width="100%" height="100%"/><text x="50%" y="16">max9611_get_lr</text></svg>
<svg class="n" id="a138" x="1249" y="4815" width="155" height="24"><rect width="100%" height="100%"/><text x="50%" y="16">max9611_get_mode</text></svg>
<svg class="n" id="a139" x="1254" y="4866" width="144" height="24"><rect width="100%" height="100%"/><text x="50%" y="16">max9611_get_raw</text></svg>
<svg class="n" id="a140" x="1251" y="4917" width="149" height="24"><rect width="100%" height="100%"/><text x="50%" y="16">max9611_get_retry</text></svg>
</g>
</svg>
<script>
(function(){
var NS="http://www.w3.org/2000/svg",G=document.getElementById("E");
function B(id){var e=document.getElementById(id);if(!e)return null;return{x:+e.getAttribute("x"),y:+e.getAttribute("y"),w:+e.getAttribute("width"),h:+e.getAttribute("height"),t:e.textContent};}
function P(d){var p=document.createElementNS(NS,"path");p.setAttribute("d",d);p.setAttribute("marker-end","url(#ah)");G.appendChild(p);}
function edge(s,t){var a=B(s),b=B(t);if(!a||!b)return;var x1=a.x+a.w,y1=a.y+a.h/2,x2=b.x,y2=b.y+b.h/2;
 var dx=Math.max((x2-x1)/2,25);P("M"+x1+","+y1+"C"+(x1+dx)+","+y1+" "+(x2-dx)+","+y2+" "+x2+","+y2);}
var k=0;
function toNO(s){var a=B(s),n=B("NO");var x1=a.x+a.w,y1=a.y+a.h/2,dy=(n.y+n.h/2)-y1;
 if(Math.abs(dy)<40){P("M"+x1+","+y1+"C"+(x1+40)+","+y1+" "+(n.x-40)+","+(n.y+12)+" "+n.x+","+(n.y+12));return;}
 var xt=1515+(k++%7)*4,yt=dy>0?n.y:n.y+n.h,s2=dy>0?1:-1,m=Math.min(Math.abs(dy)*0.6,700);
 P("M"+x1+","+y1+"C"+(x1+45)+","+(y1+s2*15)+" "+xt+","+(yt-s2*m)+" "+xt+","+yt);}
var nodes=document.querySelectorAll("svg.n");
var E="a1>a5 a2>a5 a3>a5 a8>a5 a7>a5 a10>a5 a6>a7 a9>a7 a11>a7 a11>a12 a7>a12 a10>a12 a14>a12 a15>a12 a8>a13 a13>a14 a17>a18 a20>a18 a20>a21 a19>a20 a22>a19 a22>a23 a22>a25 a23>a24 a26>a35 a26>a33 a27>a33 a27>a41 a28>a33 "+
"b1>c1 b2>c1 b3>c1 b4>c1 b5>c1 b6>c1 b7>c1 b8>c1 b9>c1 b10>c1 b11>c1 b12>c1 b13>c1 b14>c1 b15>c1 b16>c1 b17>c1 b18>c1 b19>c1 "+
"b7>c2 b8>c2 b9>c2 b10>c2 b11>c2 b12>c2 b13>c2 b14>c2 b15>c2 b16>c2 b17>c2 b18>c2 b19>c2 b20>c2 b21>c2 b21>c3 b21>a75 b21>a76 "+
"L1>b9 L1>b10 L1>b11 L1>b14 L1>b15 L1>b18 L1>b19 L1>b22 b22>c4 c4>d6 c4>e1 c2>e1 c3>e1 c1>f1 e1>f1 d2>f1 d3>f1 d4>f1 d5>f1 "+
"b23>c5 b23>c6 b23>c7 b23>c8 b23>c9 b23>c10 b23>c4 b23>c3 b23>c2 b23>c1 "+
"e2>a97 e3>a97 d31>e3 d32>e2 d33>e3 d34>e3 d35>e3 d36>e4 d37>e3 d37>e4 b24>c11 b24>c12 b24>c14 b24>d37 b24>e4 c11>d37 c11>e4 c12>d37 c13>d37 c14>d37 "+
"e5>a106 e5>a107 e6>a108 e6>a109 d38>e5 c15>d38 c15>d39 c15>e5 b25>c16 c16>d39 d39>e6 d40>e5 d40>e6 c17>d40 c18>d40 e7>a110 d41>e7 "+
"e8>a112 e9>a112 e10>a112 e11>a112 e12>a112 e13>a112 e14>a112 e15>a112 e16>a112 e17>a112 e18>a112 e19>a112 e20>a123 e20>a116 d42>e20 e21>a134";
E.split(" ").forEach(function(p){var q=p.split(">");edge(q[0],q[1]);});
for(var i=0;i<nodes.length;i++){var n=nodes[i],id=n.id,x=+n.getAttribute("x"),t=n.textContent;
 if(x>950&&x<1010&&t.indexOf("adis_read_")==0){edge(id,"f1");edge("d1",id);}
 if(x<950&&x>690&&t.indexOf("adis_write_")==0){edge(id,"e1");}
 if(id[0]=="c"&&t.indexOf("adis_write_")==0&&id!="c2"&&id!="c3"&&id!="c4"){edge(id,"e1");}
 if(x>1200&&x<1450){toNO(id);}
}
toNO("a10");toNO("a25");toNO("e4");toNO("a12");toNO("a5");
var ts=document.querySelectorAll("svg.n text");
for(var j=0;j<ts.length;j++){var tx=ts[j],w=+tx.parentNode.getAttribute("width");
 if(tx.querySelector("tspan")){var sp=tx.querySelectorAll("tspan");for(var m=0;m<sp.length;m++){try{if(sp[m].getComputedTextLength()>w-12){sp[m].setAttribute("textLength",w-14);sp[m].setAttribute("lengthAdjust","spacingAndGlyphs");}}catch(e){}}}
 else{tx.setAttribute("textLength",w-20);tx.setAttribute("lengthAdjust","spacingAndGlyphs");}}
})();
</script>
</body></html>
